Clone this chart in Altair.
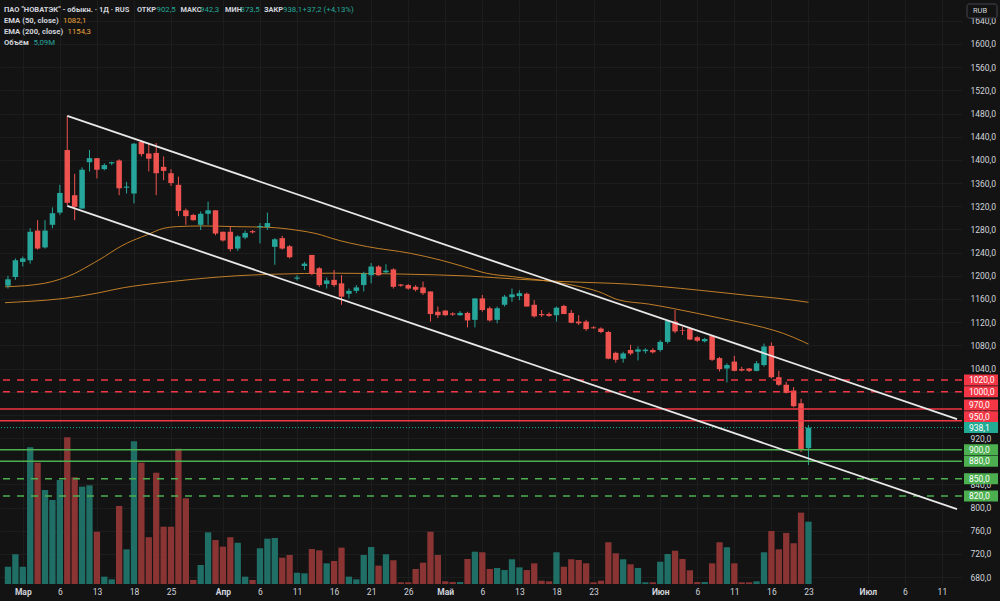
import altair as alt
import pandas as pd

FONT = "Roboto"
BG = "#131313"
TXT = "#d1d4dc"
UP = "#26a69a"
DOWN = "#ef5350"
UP_VOL = "#1f6f67"
DOWN_VOL = "#8a3434"
EMA_COLOR = "#d3892a"
RES = "#f23645"
SUP = "#4caf50"
CUR = "#22ab94"

W, H = 962, 584

# ---- daily candles (bar index 0..108) ----
opens = [1183, 1198, 1224, 1227, 1278, 1249, 1288, 1309, 1417, 1339,
         1316, 1396, 1403, 1384, 1394, 1399, 1352, 1342, 1431, 1411,
         1412, 1388, 1377, 1357, 1313, 1305, 1288, 1307, 1313, 1276,
         1276, 1247, 1266, 1277, 1284, 1284, 1250, 1265, 1251, 1195,
         1217, 1236, 1213, 1186, 1193, 1187, 1169, 1174, 1184, 1201,
         1216, 1206, 1211, 1185, 1184, 1181, 1180, 1173, 1138, 1140,
         1135, 1132, 1136, 1124, 1161, 1144, 1124, 1150, 1163, 1165,
         1169, 1150, 1134, 1134, 1132, 1148, 1136, 1121, 1121, 1111,
         1109, 1103, 1067, 1057, 1072, 1069, 1070, 1072, 1072, 1086,
         1121, 1106, 1109, 1094, 1087, 1096, 1058, 1040, 1052, 1039,
         1040, 1036, 1046, 1079, 1025, 1012, 1002, 980, 902.5]
highs = [1200, 1230, 1233, 1282, 1296, 1296, 1318, 1357, 1476, 1376,
         1387, 1417, 1403, 1394, 1397, 1401, 1362, 1429, 1434, 1429,
         1429, 1406, 1384, 1371, 1316, 1307, 1311, 1328, 1313, 1276,
         1285, 1270, 1278, 1279, 1291, 1309, 1265, 1269, 1253, 1201,
         1224, 1236, 1215, 1197, 1210, 1201, 1178, 1184, 1207, 1222,
         1218, 1220, 1213, 1186, 1186, 1184, 1190, 1173, 1147, 1141,
         1137, 1139, 1138, 1161, 1167, 1147, 1147, 1167, 1178, 1175,
         1171, 1158, 1141, 1137, 1147, 1150, 1141, 1132, 1124, 1113,
         1111, 1105, 1069, 1069, 1081, 1078, 1075, 1075, 1089, 1124,
         1141, 1112, 1111, 1096, 1093, 1098, 1060, 1049, 1062, 1043,
         1041, 1053, 1083, 1085, 1036, 1017, 1008, 988, 942.3]
lows = [1178, 1193, 1216, 1221, 1245, 1247, 1282, 1305, 1322, 1296,
        1316, 1380, 1368, 1382, 1391, 1339, 1342, 1325, 1406, 1380,
        1339, 1365, 1355, 1303, 1288, 1295, 1279, 1288, 1270, 1259,
        1242, 1243, 1263, 1273, 1256, 1279, 1219, 1245, 1230, 1192,
        1210, 1201, 1181, 1178, 1181, 1150, 1161, 1170, 1173, 1187,
        1200, 1204, 1178, 1181, 1176, 1173, 1167, 1121, 1127, 1131,
        1131, 1131, 1111, 1111, 1138, 1121, 1118, 1147, 1155, 1158,
        1147, 1128, 1129, 1129, 1121, 1134, 1118, 1115, 1105, 1109,
        1101, 1056, 1050, 1050, 1063, 1054, 1066, 1066, 1069, 1083,
        1101, 1098, 1089, 1086, 1085, 1053, 1035, 1016, 1035, 1035,
        1034, 1035, 1043, 1023, 1010, 997, 973, 896, 873.5]
closes = [1194, 1227, 1230, 1276, 1247, 1278, 1308, 1343, 1326, 1319,
          1383, 1403, 1383, 1391, 1396, 1351, 1354, 1428, 1410, 1402,
          1377, 1381, 1360, 1312, 1303, 1296, 1307, 1313, 1273, 1261,
          1246, 1268, 1274, 1275, 1286, 1291, 1263, 1247, 1232, 1197,
          1221, 1203, 1184, 1192, 1184, 1164, 1174, 1180, 1204, 1216,
          1201, 1209, 1181, 1183, 1178, 1176, 1170, 1134, 1132, 1132,
          1133, 1136, 1123, 1161, 1141, 1123, 1144, 1164, 1168, 1170,
          1147, 1130, 1132, 1131, 1145, 1134, 1119, 1118, 1108, 1109.5,
          1103, 1057, 1055, 1066, 1066, 1073, 1072.5, 1068, 1086, 1122,
          1104, 1105, 1090, 1088, 1091, 1055, 1039, 1046, 1036, 1036.5,
          1036, 1049, 1078, 1025, 1012, 998, 975, 900.9, 938.1]
# volume, millions of shares
volumes = [1.41, 2.43, 1.41, 11.17, 9.91, 7.68, 6.86, 8.50, 11.99, 8.72,
           7.95, 8.06, 4.27, 0.60, 0.38, 6.37, 2.83, 11.66, 9.91, 3.82,
           9.09, 4.68, 4.68, 11.05, 7.00, 0.33, 1.55, 4.22, 3.59, 3.05,
           3.82, 3.37, 0.60, 0.33, 2.92, 3.70, 3.76, 2.15, 2.37, 0.92,
           0.87, 2.86, 2.75, 1.69, 1.88, 2.97, 0.60, 0.38, 2.37, 3.02,
           1.50, 2.43, 1.94, 0.14, 0.14, 1.23, 1.74, 4.27, 2.37, 0.22,
           0.16, 0.16, 2.04, 2.64, 2.59, 1.23, 1.31, 1.14, 2.02, 1.36,
           1.14, 1.69, 0.27, 0.22, 2.59, 1.41, 2.02, 1.96, 1.69, 0.14,
           0.27, 3.41, 2.51, 2.02, 1.61, 1.31, 0.14, 0.14, 1.82, 2.45,
           2.72, 2.04, 1.12, 0.16, 0.16, 1.69, 3.41, 3.00, 1.69, 0.14,
           0.14, 0.22, 2.59, 4.33, 2.83, 4.17, 3.33, 5.83, 5.09]

# ---- moving averages ----
ema50_idx = [-0.4, 4.9, 7, 9, 10.3, 13, 14.7, 16, 18.7, 21, 22.7, 26.3, 30.8, 35.2,
             38.8, 42.3, 43.7, 48.5, 54.3, 58.3, 61.5, 64.6, 68.1, 71.7, 76.1,
             79.7, 82.4, 86.4, 93, 98.4, 101.9, 104.6, 107.3, 108]
ema50_val = [1181, 1187, 1194, 1204, 1213, 1233, 1247, 1256, 1270.4, 1281.9,
             1284.8, 1286, 1284.8, 1283.6, 1279, 1270.4, 1264.6, 1250.3, 1238.8,
             1227.3, 1215.8, 1204.3, 1198.5, 1192.8, 1184.1, 1172.6, 1158.3,
             1151.3, 1135.2, 1120.8, 1111, 1100.7, 1086.3, 1082.1]
ema200_idx = [-0.4, 3, 7.6, 12, 15.6, 18, 22, 26.3, 30.8, 35.2, 40, 44, 53, 62,
              69, 75, 84, 93, 100, 104, 108]
ema200_val = [1153.6, 1156, 1161, 1170, 1179.5, 1184, 1190, 1195.6, 1200,
              1202.5, 1204, 1204.5, 1203, 1199.7, 1194, 1190, 1185.5, 1175.5,
              1166, 1161, 1154.3]

# ---- descending channel ----
channel_idx = [8, 128.04]
channel_upper = [1475.8, 952.8]
channel_lower = [1320.5, 797.5]

# ---- horizontal levels ----
res_dashed = [1020, 1000]
res_solid = [970, 950]
sup_solid = [900, 880]
sup_dashed = [850, 820]

# ---- time axis ----
tick_idx = [2, 7, 12, 17, 22, 29, 34, 39, 44, 49, 54, 59, 64, 69, 74, 79,
            88, 93, 98, 103, 108, 116, 121, 126]
tick_lbl = ["Мар", "6", "13", "18", "25", "Апр", "6", "11", "16", "21", "26",
            "Май", "6", "13", "18", "23", "Июн", "6", "11", "16", "23",
            "Июл", "6", "11"]
month_idx = [2, 29, 59, 88, 116]
price_ticks = list(range(680, 1641, 40))

bars = pd.DataFrame({"i": list(range(len(opens))), "open": opens, "high": highs,
                     "low": lows, "close": closes, "vol": volumes})

x_scale = alt.Scale(domain=[-0.4, 128.04], nice=False, zero=False)
y_scale = alt.Scale(domain=[668.2, 1675.9], nice=False, zero=False)
v_scale = alt.Scale(domain=[0, 47.7], nice=False, zero=False)

lbl_array = "[" + ",".join("'" + s + "'" for s in tick_lbl) + "]"
idx_array = "[" + ",".join(str(v) for v in tick_idx) + "]"
month_array = "[" + ",".join(str(v) for v in month_idx) + "]"

x_axis = alt.Axis(
    values=tick_idx, title=None, labelExpr=f"{lbl_array}[indexof({idx_array}, datum.value)]",
    labelFont=FONT, labelFontSize=8.5, labelColor=TXT, labelPadding=3,
    labelFontWeight={"condition": {"test": f"indexof({month_array}, datum.value) >= 0",
                                   "value": "bold"}, "value": "normal"},
    ticks=False, domain=False, grid=True, gridColor="#1d1d1d", gridWidth=1,
    labelFlush=False, labelOverlap=False, labelAngle=0,
)
y_axis = alt.Axis(
    orient="right", values=price_ticks, title=None,
    labelExpr="replace(format(datum.value, '.1f'), '.', ',')",
    labelFont=FONT, labelFontSize=8.5, labelColor=TXT, labelAlign="left",
    labelBaseline="middle", labelPadding=8, labelFlush=False, labelOverlap=False,
    ticks=False, domain=False, grid=True, gridColor="#1d1d1d", gridWidth=1,
)

X = alt.X("i:Q", scale=x_scale, axis=x_axis)


def Yp(field):
    return alt.Y(f"{field}:Q", scale=y_scale, axis=y_axis)


candle_color = alt.condition("datum.close >= datum.open", alt.value(UP), alt.value(DOWN))
volume_color = alt.condition("datum.close >= datum.open", alt.value(UP_VOL), alt.value(DOWN_VOL))

volume = alt.Chart(bars).mark_bar(width=6.3).encode(
    x=X, y=alt.Y("vol:Q", scale=v_scale, axis=None), color=volume_color
)

ema50 = alt.Chart(pd.DataFrame({"i": ema50_idx, "v": ema50_val})).mark_line(
    color=EMA_COLOR, strokeWidth=1, interpolate="monotone", clip=True, opacity=0.9
).encode(x=X, y=Yp("v"))
ema200 = alt.Chart(pd.DataFrame({"i": ema200_idx, "v": ema200_val})).mark_line(
    color=EMA_COLOR, strokeWidth=1, interpolate="monotone", clip=True, opacity=0.9
).encode(x=X, y=Yp("v"))

wicks = alt.Chart(bars).mark_rule(strokeWidth=1).encode(
    x=X, y=Yp("low"), y2="high:Q", color=candle_color
)
bodies = alt.Chart(bars).mark_bar(width=5.5).encode(
    x=X, y=Yp("open"), y2="close:Q", color=candle_color
)


def level_rules(prices, color, dash=None):
    kw = {"color": color, "strokeWidth": 1.5}
    if dash:
        kw["strokeDash"] = dash
    return alt.Chart(pd.DataFrame({"price": prices})).mark_rule(**kw).encode(y=Yp("price"))


levels = [
    level_rules(res_dashed, RES, [7, 7]),
    level_rules(res_solid, RES),
    level_rules(sup_solid, SUP),
    level_rules(sup_dashed, SUP, [7, 7]),
]

last_close = closes[-1]
last_line = alt.Chart(pd.DataFrame({"price": [last_close]})).mark_rule(
    color=CUR, strokeWidth=1, strokeDash=[1, 2]
).encode(y=Yp("price"))

channel = alt.Chart(pd.DataFrame({
    "i": channel_idx * 2,
    "p": channel_upper + channel_lower,
    "edge": ["upper", "upper", "lower", "lower"],
})).mark_line(color="#e8e8e8", strokeWidth=1.8, clip=True).encode(
    x=X, y=Yp("p"), detail="edge:N"
)

label_expr = "replace(format(datum.price, '.1f'), '.', ',')"
side_scale = alt.Scale(domain=["res", "sup", "last"], range=[RES, SUP, CUR])


def price_boxes(prices, side, nudge=0.0):
    df = pd.DataFrame({"price": prices, "side": [side] * len(prices)})
    rect = alt.Chart(df).mark_rect(yOffset=-5.5 + nudge, y2Offset=5.5 + nudge).encode(
        x=alt.value(964), x2=alt.value(998), y=Yp("price"), y2="price:Q",
        color=alt.Color("side:N", scale=side_scale, legend=None),
    )
    txt = alt.Chart(df).transform_calculate(lbl=label_expr).mark_text(
        align="left", baseline="middle", color="white", fontSize=8.5, font=FONT,
        dy=nudge,
    ).encode(x=alt.value(969), y=Yp("price"), text="lbl:N")
    return [rect, txt]


boxes = (price_boxes(res_dashed, "res") + price_boxes(res_solid, "res", -4)
         + price_boxes([last_close], "last") + price_boxes(sup_solid, "sup")
         + price_boxes(sup_dashed, "sup"))

price_group = alt.layer(ema200, ema50, wicks, bodies, *levels, last_line, channel, *boxes)

one = pd.DataFrame({"t": [""]})


def header(text, x, y, color, weight="normal", size=7.8):
    return alt.Chart(pd.DataFrame({"t": [text]})).mark_text(
        align="left", baseline="middle", color=color, fontSize=size,
        fontWeight=weight, font=FONT,
    ).encode(x=alt.value(x), y=alt.value(y), text="t:N")


ORANGE = "#e8a33d"
LBL = 7.4
head = [
    header('ПАО "НОВАТЭК" - обыкн. · 1Д · RUS', 4, 10, TXT, "bold", 7.55),
    header("ОТКР", 137, 10, TXT, "bold", LBL), header("902,5", 156.5, 10, UP),
    header("МАКС", 180.5, 10, TXT, "bold", LBL), header("942,3", 200, 10, UP),
    header("МИН", 225, 10, TXT, "bold", LBL), header("873,5", 240.5, 10, UP),
    header("ЗАКР", 264, 10, TXT, "bold", LBL), header("938,1", 283, 10, UP),
    header("+37,2 (+4,13%)", 302.5, 10, UP),
    header("EMA (50, close)", 4, 21, TXT, "bold", 7.7), header("1082,1", 63, 21, ORANGE),
    header("EMA (200, close)", 4, 32, TXT, "bold", 7.7), header("1154,3", 67.5, 32, ORANGE),
    header("Объём", 4, 43, TXT, "bold", 7.7), header("5,09M", 33.5, 43, UP),
]

rub_box = alt.Chart(one).mark_rect(
    fill=BG, stroke="#434651", strokeWidth=1, cornerRadius=2
).encode(x=alt.value(967), x2=alt.value(997), y=alt.value(4), y2=alt.value(18))
rub_text = header("RUB", 973, 11, TXT, "normal", 7.5)

chart = alt.layer(volume, price_group, rub_box, rub_text, *head).resolve_scale(
    y="independent"
).properties(
    width=W, height=H,
    autosize=alt.AutoSizeParams(type="none"),
    padding={"left": 0, "top": 0, "right": 1000 - W, "bottom": 601 - H},
    background=BG,
).configure_view(stroke=None)

chart.save("out.html", embed_options={"renderer": "svg", "actions": False})
